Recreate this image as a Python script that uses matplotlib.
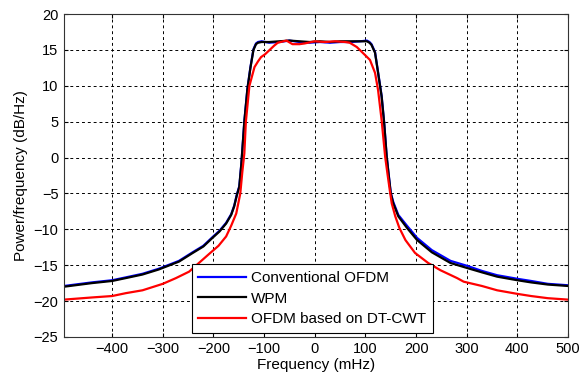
import matplotlib.pyplot as plt

plt.rcParams['font.family'] = ['Liberation Sans', 'DejaVu Sans']

# values
freq_wpm = [-495, -440, -400, -373, -340, -308, -268, -241, -220, -202, -188, -175, -165, -159,
            -154, -149, -145, -142, -139, -133, -127, -121, -116, -112, -105, -90, -70, -50, -30,
            -10, 10, 30, 50, 70, 90, 103, 108, 112, 119, 125, 132, 137, 142, 146, 150, 155, 165,
            182, 202, 231, 268, 301, 330, 360, 400, 427, 460, 500]
psd_wpm = [-18.0, -17.5, -17.2, -16.8, -16.3, -15.6, -14.5, -13.3, -12.4, -11.2, -10.3, -9.2, -8.0,
           -6.8, -5.3, -4.1, -1.0, 2.0, 5.0, 9.5, 12.5, 15.0, 15.8, 16.0, 16.1, 16.1, 16.2, 16.3,
           16.2, 16.1, 16.2, 16.1, 16.2, 16.2, 16.2, 16.2, 16.0, 15.7, 14.6, 11.8, 8.5, 4.8, 0.1,
           -2.5, -5.0, -6.4, -8.2, -9.8, -11.5, -13.2, -14.7, -15.4, -16.0, -16.6, -17.1, -17.4,
           -17.7, -17.9]

freq_conv = freq_wpm
psd_conv = [-17.9, -17.4, -17.1, -16.7, -16.2, -15.5, -14.4, -13.2, -12.3, -11.1, -10.2, -9.1, -7.9,
            -6.7, -5.2, -4.0, -0.9, 2.1, 5.1, 9.6, 12.6, 15.1, 15.9, 16.1, 16.2, 16.0, 16.1, 16.3,
            16.1, 16.0, 16.1, 16.0, 16.1, 16.1, 16.2, 16.3, 16.1, 15.8, 14.7, 11.9, 8.6, 4.9, 0.2,
            -2.4, -4.9, -6.2, -8.0, -9.5, -11.2, -12.9, -14.4, -15.1, -15.8, -16.4, -16.9, -17.2,
            -17.6, -17.8]

freq_dtcwt = [-495, -440, -400, -373, -340, -300, -274, -248, -208, -190, -175, -165, -155, -147,
              -143, -139, -136, -129, -119, -112, -106, -98, -89, -80, -73, -56, -44, -30, -20, 0,
              20, 40, 60, 69, 83, 99, 109, 119, 125, 132, 139, 144, 149, 152, 159, 167, 179, 198,
              224, 248, 281, 294, 330, 360, 400, 427, 460, 500]
psd_dtcwt = [-19.8, -19.5, -19.3, -18.9, -18.5, -17.6, -16.8, -15.9, -13.4, -12.3, -11.0, -9.5, -7.8,
             -5.0, -2.0, 0.6, 5.0, 10.0, 12.6, 13.4, 14.0, 14.4, 15.0, 15.6, 16.0, 16.3, 15.8, 15.8,
             15.9, 16.2, 16.1, 16.2, 16.1, 16.0, 15.4, 14.3, 13.6, 11.8, 9.4, 5.2, 0.1, -2.5, -5.0,
             -6.4, -8.2, -9.8, -11.5, -13.3, -14.7, -15.7, -16.8, -17.3, -17.9, -18.5, -19.0,
             -19.3, -19.6, -19.8]

labels = ['Conventional OFDM', 'WPM', 'OFDM based on DT-CWT']

fig = plt.figure(figsize=(5.82, 3.79), dpi=100)
ax = fig.add_axes([0.110, 0.111, 0.866, 0.852])

ax.plot(freq_conv, psd_conv, color='#0000ff', lw=1.6, label=labels[0])
ax.plot(freq_wpm, psd_wpm, color='black', lw=1.6, label=labels[1])
ax.plot(freq_dtcwt, psd_dtcwt, color='#ff0000', lw=1.6, label=labels[2])

ax.set_xlim(-495, 500)
ax.set_ylim(-25, 20)
ax.set_xticks(range(-400, 501, 100))
ax.set_yticks(range(-25, 21, 5))
ax.grid(True, color='black', linestyle=(0, (3, 3)), linewidth=0.7)
ax.tick_params(direction='in', top=True, right=True, labelsize=10.5, length=3, pad=4)
for s in ax.spines.values():
    s.set_color('#333333')
ax.set_xlabel('Frequency (mHz)', fontsize=11, labelpad=1)
ax.set_ylabel('Power/frequency (dB/Hz)', fontsize=11, labelpad=4)

leg = ax.legend(loc='lower left', bbox_to_anchor=(0.253, 0.012), fontsize=11, fancybox=False,
                framealpha=1, edgecolor='black', handlelength=3.1, handletextpad=0.35,
                borderpad=0.45, labelspacing=0.42, borderaxespad=0)
leg.get_frame().set_linewidth(0.8)

plt.savefig('out.png', dpi=100)
